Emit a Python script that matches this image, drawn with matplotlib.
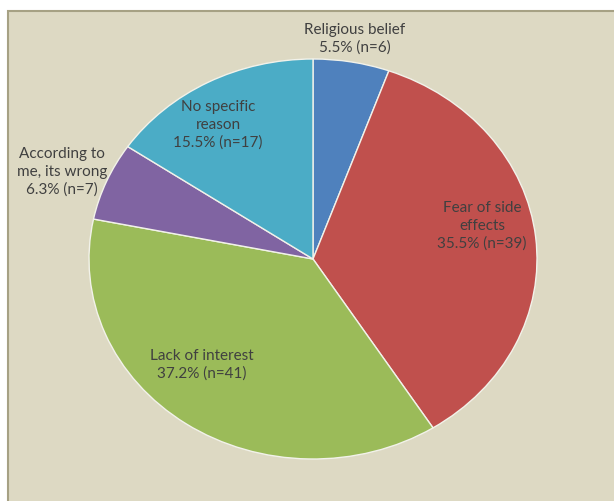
import matplotlib
matplotlib.use("Agg")
import matplotlib.pyplot as plt
from matplotlib.patches import Rectangle

categories = ["Religious belief", "Fear of side\neffects", "Lack of interest",
              "According to\nme, its wrong", "No specific\nreason"]
percents = [5.5, 35.5, 37.2, 6.3, 15.5]
counts = [6, 39, 41, 7, 17]
colors = ["#4f81bd", "#c0504d", "#9bbb59", "#8064a2", "#4bacc6"]

# label anchor positions (data coords of the unit pie)
label_pos = [(0.1875, 1.10), (0.754, 0.165), (-0.496, -0.53), (-1.12, 0.435), (-0.424, 0.67)]

W, H = 614, 501
fig = plt.figure(figsize=(W / 100, H / 100), dpi=100)
fig.patch.set_facecolor("white")
fig.patches.append(Rectangle((8 / W, -0.05), 1.1, (H - 11) / H + 0.05,
                             transform=fig.transFigure, facecolor="#ddd9c3",
                             edgecolor="#a6a184", linewidth=1.5, zorder=-10))

ax = fig.add_axes([89 / W, 42 / H, 448 / W, 400 / H])
ax.set_zorder(5)
ax.pie(percents, colors=colors, startangle=90, counterclock=False,
       wedgeprops=dict(edgecolor="#f2f2ea", linewidth=1.0))
ax.set_aspect("auto")
ax.set_xlim(-1, 1)
ax.set_ylim(-1, 1)
ax.axis("off")

for cat, p, n, (x, y) in zip(categories, percents, counts, label_pos):
    ax.text(x, y, f"{cat}\n{p}% (n={n})", ha="center", va="center",
            fontsize=11, family="Lato", color="#404040", linespacing=1.3,
            clip_on=False)

fig.savefig("out.png", dpi=100, facecolor=fig.get_facecolor())
